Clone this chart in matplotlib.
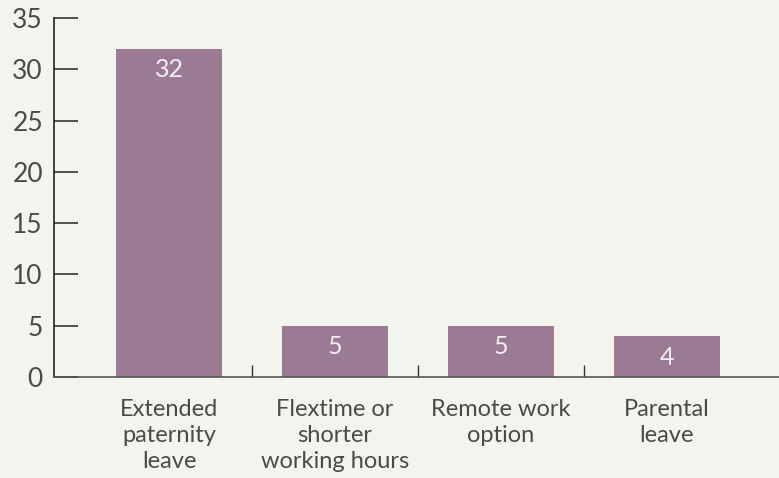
import numpy as np
import matplotlib.pyplot as plt

categories = ["Extended\npaternity\nleave", "Flextime or\nshorter\nworking hours",
              "Remote work\noption", "Parental\nleave"]
values = [32, 5, 5, 4]
yticks = [0, 5, 10, 15, 20, 25, 30, 35]

bg = "#f4f4ef"
bar_color = "#9b7b93"
text_color = "#4a4a4a"

plt.rcParams['font.family'] = ['Lato', 'DejaVu Sans']

fig = plt.figure(figsize=(7.79, 4.78), dpi=100, facecolor=bg)
ax = fig.add_axes([54 / 779, 101 / 478, 725 / 779, 359 / 478], facecolor=bg)

x = np.arange(len(categories))
bars = ax.bar(x, values, width=0.64, color=bar_color, zorder=2)

# подписи значений внутри столбиков
for xi, v in zip(x, values):
    ax.annotate(str(v), (xi, v), xytext=(0, -7), textcoords="offset points",
                ha="center", va="top", color="#f4eef2", fontsize=18)

ax.set_xlim(-0.693, 3.675)
ax.set_ylim(0, 35)
ax.set_yticks(yticks)
ax.tick_params(axis="y", direction="in", length=17, width=1.2, color="#333333",
               labelsize=19, labelcolor=text_color, pad=8)

# разделители категорий на оси x
ax.set_xticks(x[:-1] + 0.5, minor=True)
ax.set_xticks(x)
ax.set_xticklabels(categories, fontsize=17, color=text_color, linespacing=1.3)
ax.tick_params(axis="x", which="major", length=0, pad=16)
ax.tick_params(axis="x", which="minor", direction="in", length=9, width=1, color="#333333")

for s in ["top", "right"]:
    ax.spines[s].set_visible(False)
ax.spines["left"].set_color("#222222")
ax.spines["left"].set_linewidth(1.2)
ax.spines["bottom"].set_color("#555555")
ax.spines["bottom"].set_linewidth(1.2)

fig.savefig("out.png", dpi=100, facecolor=bg)
